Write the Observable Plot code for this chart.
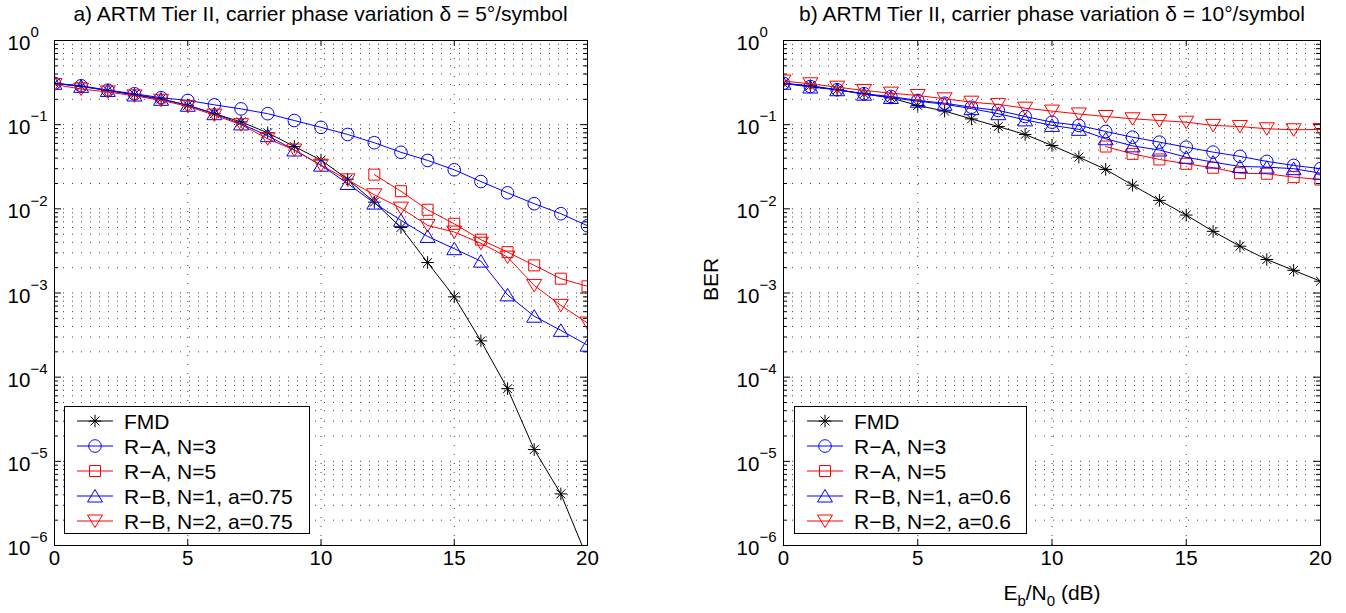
<!DOCTYPE html>
<html><head><meta charset="utf-8">
<script src="https://cdn.jsdelivr.net/npm/d3@7"></script>
<script src="https://cdn.jsdelivr.net/npm/@observablehq/plot@0.6"></script>
<style>
body{margin:0;background:#fff;font-family:"Liberation Sans",Arial,Helvetica,sans-serif;}
#wrap{position:relative;width:1346px;height:613px;overflow:hidden;background:#fff;}
.panel{position:absolute;top:0;}
.title{position:absolute;top:2px;font-size:21px;white-space:nowrap;transform:translateX(-50%);color:#000;}
.xlab{position:absolute;top:581px;font-size:21px;white-space:nowrap;transform:translateX(-50%);color:#000;}
.xlab sub{font-size:15px;vertical-align:-6px;line-height:0;}
#overlay{position:absolute;left:0;top:0;pointer-events:none;}
</style></head><body><div id="wrap"></div>
<script>
// ---- data ----
const ebn0 = [0,1,2,3,4,5,6,7,8,9,10,11,12,13,14,15,16,17,18,19,20];
const xTicks = [0,5,10,15,20];
const yDecades = [1e-6,1e-5,1e-4,1e-3,1e-2,1e-1,1];
const yExponents = ["−6","−5","−4","−3","−2","−1","0"];
const seriesNames = ["FMD","R−A, N=3","R−A, N=5"];
const seriesNamesA = ["R−B, N=1, a=0.75","R−B, N=2, a=0.75"];
const seriesNamesB = ["R−B, N=1, a=0.6","R−B, N=2, a=0.6"];
const titleA = "a)  ARTM Tier II, carrier phase variation δ = 5°/symbol";
const titleB = "b)  ARTM Tier II, carrier phase variation δ = 10°/symbol";

// panel a (delta = 5 deg/symbol)
const fmdA = [0.31,0.285,0.255,0.228,0.203,0.17,0.135,0.108,0.080,0.055,0.038,0.0225,0.012,0.006,0.0023,0.0009,0.00027,0.000073,0.0000138,0.0000041,0.0000007];
const ra3A = [0.31,0.29,0.257,0.233,0.209,0.194,0.172,0.154,0.135,0.112,0.093,0.0765,0.061,0.047,0.0376,0.0291,0.0211,0.0155,0.0115,0.00875,0.0063];
const ra5A = [null,null,null,null,null,null,null,null,null,null,null,null,0.0255,0.0162,0.00975,0.00664,0.0043,0.00306,0.00213,0.00148,0.0012];
const rb1A = [0.31,0.285,0.255,0.225,0.20,0.17,0.135,0.102,0.074,0.050,0.033,0.020,0.0117,0.0073,0.0047,0.00336,0.00239,0.00095,0.00053,0.00036,0.00024];
const rb2A = [0.30,0.265,0.245,0.22,0.195,0.165,0.13,0.10,0.068,0.050,0.033,0.0221,0.0147,0.0102,0.00635,0.0053,0.0039,0.00267,0.00123,0.000713,0.00044];

// panel b (delta = 10 deg/symbol)
const fmdB = [0.31,0.29,0.26,0.233,0.208,0.169,0.145,0.117,0.095,0.0765,0.0566,0.0411,0.0294,0.0191,0.0126,0.00843,0.0054,0.0036,0.0025,0.00186,0.00138];
const ra3B = [0.31,0.284,0.26,0.233,0.216,0.194,0.18,0.161,0.1475,0.125,0.107,0.098,0.083,0.071,0.062,0.054,0.0472,0.042,0.0366,0.0328,0.030];
const ra5B = [null,null,null,null,null,null,null,null,null,null,null,null,0.055,0.045,0.0386,0.0343,0.0308,0.0265,0.0261,0.0238,0.0223];
const rb1B = [0.31,0.28,0.26,0.23,0.21,0.19,0.175,0.155,0.135,0.114,0.098,0.088,0.068,0.056,0.050,0.041,0.0359,0.0319,0.0313,0.030,0.0265];
const rb2B = [0.33,0.306,0.279,0.255,0.237,0.222,0.203,0.185,0.174,0.157,0.145,0.134,0.125,0.1175,0.112,0.107,0.098,0.095,0.0894,0.087,0.0877];

// ---- marker symbols (MATLAB-like) ----
const R0 = 6;
const symStar = {draw(c, s){const k=Math.sqrt(s/Math.PI)/R0, r=6.3*k, a=r*0.7071;
  c.moveTo(0,-r);c.lineTo(0,r);c.moveTo(-r,0);c.lineTo(r,0);
  c.moveTo(-a,-a);c.lineTo(a,a);c.moveTo(-a,a);c.lineTo(a,-a);}};
const symCircle = {draw(c, s){const r=Math.sqrt(s/Math.PI)/R0*6.3; c.moveTo(r,0); c.arc(0,0,r,0,2*Math.PI); c.closePath();}};
const symSquare = {draw(c, s){const h=Math.sqrt(s/Math.PI)/R0*5.5; c.moveTo(-h,-h);c.lineTo(h,-h);c.lineTo(h,h);c.lineTo(-h,h);c.closePath();}};
const symUp = {draw(c, s){const k=Math.sqrt(s/Math.PI)/R0; c.moveTo(0,-6.5*k);c.lineTo(7.5*k,6*k);c.lineTo(-7.5*k,6*k);c.closePath();}};
const symDown = {draw(c, s){const k=Math.sqrt(s/Math.PI)/R0; c.moveTo(0,6.5*k);c.lineTo(7.5*k,-6*k);c.lineTo(-7.5*k,-6*k);c.closePath();}};

const styles = [
  {color:"#000000", symbol:symStar},
  {color:"#0000ff", symbol:symCircle},
  {color:"#ff0000", symbol:symSquare},
  {color:"#0000ff", symbol:symUp},
  {color:"#ff0000", symbol:symDown}
];

const yGrid = [];
for (const d of yDecades.slice(0,-1)) for (const m of [1,2,3,4,5,6,7,8,9]) { if (!(m===1 && d===1e-6)) yGrid.push(d*m); }
const yMajor = yDecades;
const yMinor = yGrid.filter(v => !yDecades.includes(v));

const W = 673, H = 613, MT = 40, MB = 68;
const FONT = "Liberation Sans, Arial, Helvetica, sans-serif";

function panel(values, ml, mr, withBER){
  const pw = W - ml - mr, ph = H - MT - MB;
  const marks = [
    Plot.ruleY(yGrid, {y: d => d, stroke: "#000", strokeWidth: 1, strokeDasharray: "1,8", strokeOpacity: 0.75}),
    Plot.ruleX(xTicks.slice(1,-1), {x: d => d, stroke: "#000", strokeWidth: 1, strokeDasharray: "1,8", strokeOpacity: 0.75}),
    // inward ticks
    Plot.tickY(yMajor, {y: d => d, insetRight: pw - 7, stroke: "#000"}),
    Plot.tickY(yMajor, {y: d => d, insetLeft: pw - 7, stroke: "#000"}),
    Plot.tickY(yMinor, {y: d => d, insetRight: pw - 4, stroke: "#000"}),
    Plot.tickY(yMinor, {y: d => d, insetLeft: pw - 4, stroke: "#000"}),
    Plot.tickX(xTicks, {x: d => d, insetTop: ph - 6, stroke: "#000"}),
    Plot.tickX(xTicks, {x: d => d, insetBottom: ph - 6, stroke: "#000"})
  ];
  values.forEach((vals, i) => {
    const rows = ebn0.map((x, j) => ({x, y: vals[j]})).filter(d => d.y != null);
    marks.push(Plot.line(rows, {x: "x", y: "y", stroke: styles[i].color, strokeWidth: 1, clip: true}));
    marks.push(Plot.dot(rows, {x: "x", y: "y", symbol: styles[i].symbol, r: R0, stroke: styles[i].color, fill: "none", strokeWidth: 1, clip: true}));
  });
  marks.push(Plot.frame({stroke: "#000", strokeWidth: 1}));
  marks.push(Plot.text(yDecades, {y: d => d, text: () => "10", frameAnchor: "left", textAnchor: "start", dx: -47, dy: 3, fontSize: 20.5, fill: "#000"}));
  marks.push(Plot.text(yDecades, {y: d => d, text: (d, i) => yExponents[i], frameAnchor: "left", textAnchor: "start", dx: -24, dy: -8, fontSize: 15, fill: "#000"}));
  marks.push(Plot.text(xTicks, {x: d => d, text: d => String(d), frameAnchor: "bottom", dy: 19, fontSize: 20.5, fill: "#000"}));
  if (withBER) marks.push(Plot.text(["BER"], {text: d => d, frameAnchor: "left", dx: -72, dy: 8, rotate: -90, fontSize: 21, fill: "#000"}));
  return Plot.plot({
    width: W, height: H, marginTop: MT, marginBottom: MB, marginLeft: ml, marginRight: mr,
    x: {domain: [0, 20], axis: null},
    y: {type: "log", domain: [1e-6, 1], axis: null},
    style: {fontFamily: FONT, fontSize: "20px", background: "transparent", overflow: "visible"},
    marks
  });
}

const wrap = document.getElementById("wrap");
const pA = panel([fmdA, ra3A, ra5A, rb1A, rb2A], 54, 86, false);
const pB = panel([fmdB, ra3B, ra5B, rb1B, rb2B], 110, 26, true);
pA.classList.add("panel"); pA.style.left = "0px";
pB.classList.add("panel"); pB.style.left = "673px";
wrap.appendChild(pA); wrap.appendChild(pB);

function addDiv(cls, left, html){ const d = document.createElement("div"); d.className = cls; d.style.left = left + "px"; d.innerHTML = html; wrap.appendChild(d); }
addDiv("title", 320.5, titleA);
addDiv("title", 1052, titleB);
addDiv("xlab", 1052, "E<sub>b</sub>/N<sub>0</sub> (dB)");

// ---- legends ----
const svg = d3.select(wrap).append("svg").attr("id", "overlay").attr("width", 1346).attr("height", 613)
  .style("font-family", FONT);
function legend(x0, w, names){
  const g = svg.append("g");
  g.append("rect").attr("x", x0 + 0.5).attr("y", 406.5).attr("width", w).attr("height", 127).attr("fill", "#fff").attr("stroke", "#000");
  names.forEach((name, i) => {
    const y = 421 + 25 * i;
    g.append("line").attr("x1", x0 + 13).attr("x2", x0 + 49).attr("y1", y).attr("y2", y).attr("stroke", styles[i].color);
    const p = d3.path(); styles[i].symbol.draw(p, R0 * R0 * Math.PI);
    g.append("path").attr("d", p.toString()).attr("transform", `translate(${x0 + 31},${y})`).attr("fill", "none").attr("stroke", styles[i].color);
    g.append("text").attr("x", x0 + 60).attr("y", y).attr("dy", "0.36em").attr("font-size", 21).attr("fill", "#000").text(name);
  });
}
legend(64, 245, seriesNames.concat(seriesNamesA));
legend(794, 232, seriesNames.concat(seriesNamesB));
</script></body></html>
